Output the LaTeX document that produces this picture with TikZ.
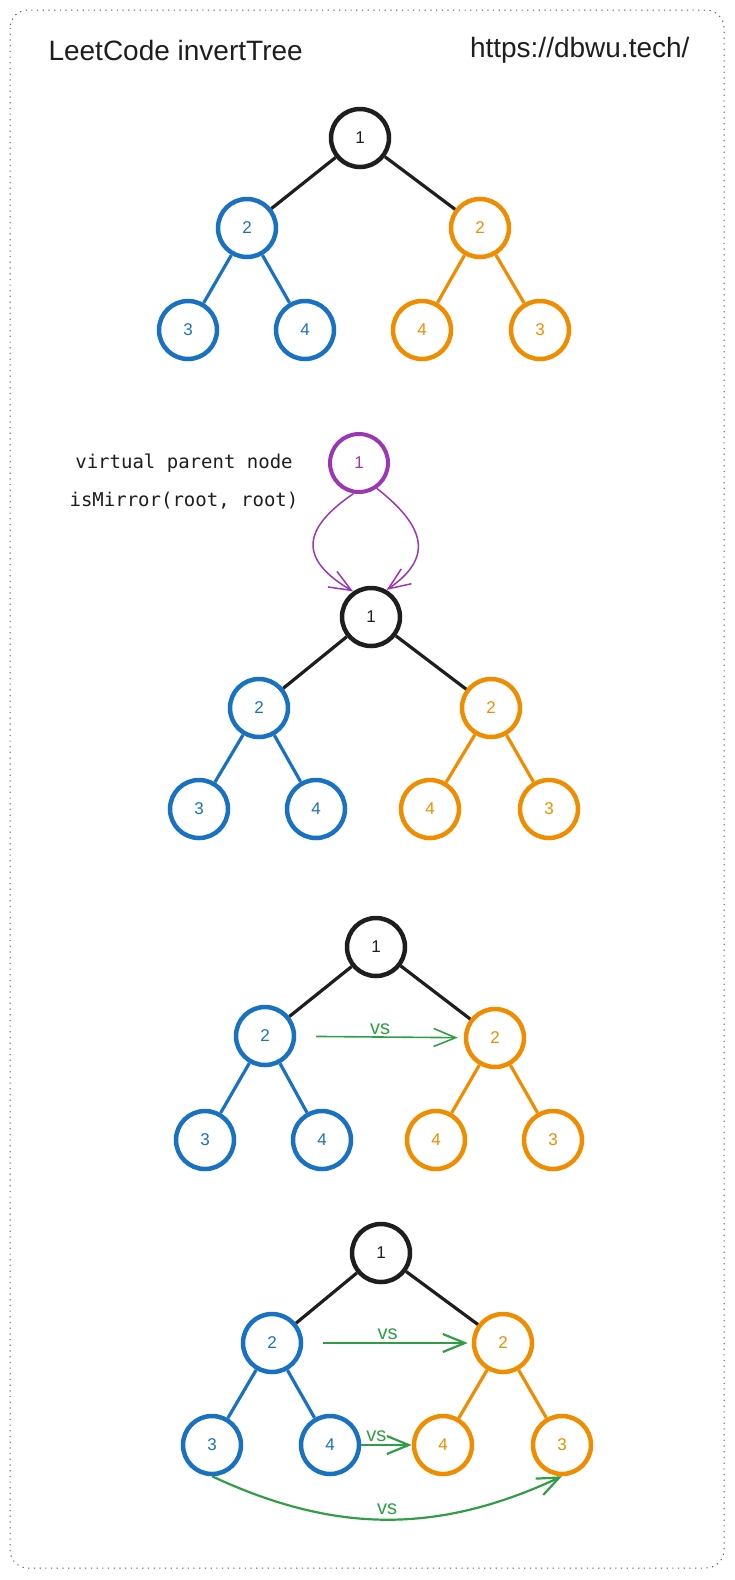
\documentclass[tikz,border=0pt]{standalone}
\usepackage{fontspec}
\setmainfont{Liberation Sans}
\setmonofont{DejaVu Sans Mono}
\usetikzlibrary{arrows.meta}
\definecolor{Ink}{HTML}{1E1E1E}
\definecolor{LeftBlue}{HTML}{1971C2}
\definecolor{RightOrange}{HTML}{F08C00}
\definecolor{VirtPurple}{HTML}{9C36B5}
\definecolor{CmpGreen}{HTML}{2F9E44}

\begin{document}
\begin{tikzpicture}[x=1pt, y=1pt, font=\fontsize{17}{19}\selectfont, >={Straight Barb[length=22pt,width=18pt]}]
\tikzset{tn/.style={circle, draw, line width=4.5pt, minimum size=58pt, inner sep=0pt}, blk/.style={tn, draw=Ink, text=Ink}, lft/.style={tn, draw=LeftBlue, text=LeftBlue}, rgt/.style={tn, draw=RightOrange, text=RightOrange}, virt/.style={tn, line width=4pt, draw=VirtPurple, text=VirtPurple}, trunk/.style={line width=3.2pt, Ink}, lbr/.style={line width=3.2pt, LeftBlue}, rbr/.style={line width=3.2pt, RightOrange}, vsarr/.style={->, line width=2.2pt, CmpGreen}, vslbl/.style={font=\fontsize{20}{22}\selectfont, text=CmpGreen, inner sep=2pt}, code/.style={font=\ttfamily\fontsize{19}{21}\selectfont, text=Ink}}
\useasboundingbox (0,0) rectangle (734,-1580);
\draw[Ink!75, line width=1pt, dash pattern=on 1.2pt off 4.5pt, rounded corners=18pt] (10,-10) rectangle (724,-1568);
\node[anchor=west, font=\fontsize{28}{30}\selectfont, text=Ink] (title) at (45,-50) {LeetCode invertTree};
\node[anchor=east, font=\fontsize{28}{30}\selectfont, text=Ink] (site) at (693,-50) {https://dbwu.tech/};
% original tree
\node[blk] (root1) at (360,-138) {1};
\node[lft] (lft1) at (247,-228) {2};
\node[rgt] (rgt1) at (480,-228) {2};
\node[lft] (lft1a) at (188,-330) {3};
\node[lft] (lft1b) at (305,-330) {4};
\node[rgt] (rgt1a) at (422,-330) {4};
\node[rgt] (rgt1b) at (540,-330) {3};
\draw[trunk] (root1)--(lft1); \draw[trunk] (root1)--(rgt1); \draw[lbr] (lft1)--(lft1a); \draw[lbr] (lft1)--(lft1b); \draw[rbr] (rgt1)--(rgt1a); \draw[rbr] (rgt1)--(rgt1b);
% virtual parent
\node[code] (vtext) at (184,-463) {virtual parent node};
\node[code] (vcall) at (184,-501) {isMirror(root, root)};
\node[virt] (vroot) at (359,-463) {1};
\node[blk] (root2) at (371,-617) {1};
\node[lft] (lft2) at (259,-708) {2};
\node[rgt] (rgt2) at (491,-708) {2};
\node[lft] (lft2a) at (199,-809) {3};
\node[lft] (lft2b) at (316,-809) {4};
\node[rgt] (rgt2a) at (430,-809) {4};
\node[rgt] (rgt2b) at (549,-809) {3};
\draw[trunk] (root2)--(lft2); \draw[trunk] (root2)--(rgt2); \draw[lbr] (lft2)--(lft2a); \draw[lbr] (lft2)--(lft2b); \draw[rbr] (rgt2)--(rgt2a); \draw[rbr] (rgt2)--(rgt2b);
\draw[->, line width=1.5pt, VirtPurple] (vroot.-100) .. controls (300,-530) and (300,-560) .. (root2.125);
\draw[->, line width=1.5pt, VirtPurple] (vroot.-55) .. controls (430,-530) and (430,-560) .. (root2.60);
% compare children
\node[blk] (root3) at (376,-947) {1};
\node[lft] (lft3) at (265,-1036) {2};
\node[rgt] (rgt3) at (495,-1038) {2};
\node[lft] (lft3a) at (205,-1140) {3};
\node[lft] (lft3b) at (322,-1140) {4};
\node[rgt] (rgt3a) at (436,-1140) {4};
\node[rgt] (rgt3b) at (553,-1140) {3};
\draw[trunk] (root3)--(lft3); \draw[trunk] (root3)--(rgt3); \draw[lbr] (lft3)--(lft3a); \draw[lbr] (lft3)--(lft3b); \draw[rbr] (rgt3)--(rgt3a); \draw[rbr] (rgt3)--(rgt3b);
\draw[vsarr, line width=1.6pt, shorten <=20pt, shorten >=6pt] (lft3)--(rgt3) node[vslbl, midway, above] {vs};
% compare grandchildren
\node[blk] (root4) at (381,-1253) {1};
\node[lft] (lft4) at (272,-1343) {2};
\node[rgt] (rgt4) at (503,-1343) {2};
\node[lft] (lft4a) at (212,-1445) {3};
\node[lft] (lft4b) at (330,-1445) {4};
\node[rgt] (rgt4a) at (443,-1445) {4};
\node[rgt] (rgt4b) at (562,-1445) {3};
\draw[trunk] (root4)--(lft4); \draw[trunk] (root4)--(rgt4); \draw[lbr] (lft4)--(lft4a); \draw[lbr] (lft4)--(lft4b); \draw[rbr] (rgt4)--(rgt4a); \draw[rbr] (rgt4)--(rgt4b);
\draw[vsarr, shorten <=20pt, shorten >=4pt] (lft4)--(rgt4) node[vslbl, midway, above] {vs};
\draw[vsarr] (lft4b)--(rgt4a) node[vslbl, pos=0.3, above] {vs};
\draw[vsarr] (lft4a.south) to[out=-25, in=205] node[vslbl, midway, above, yshift=2pt] {vs} (rgt4b.south);
\end{tikzpicture}
\end{document}
